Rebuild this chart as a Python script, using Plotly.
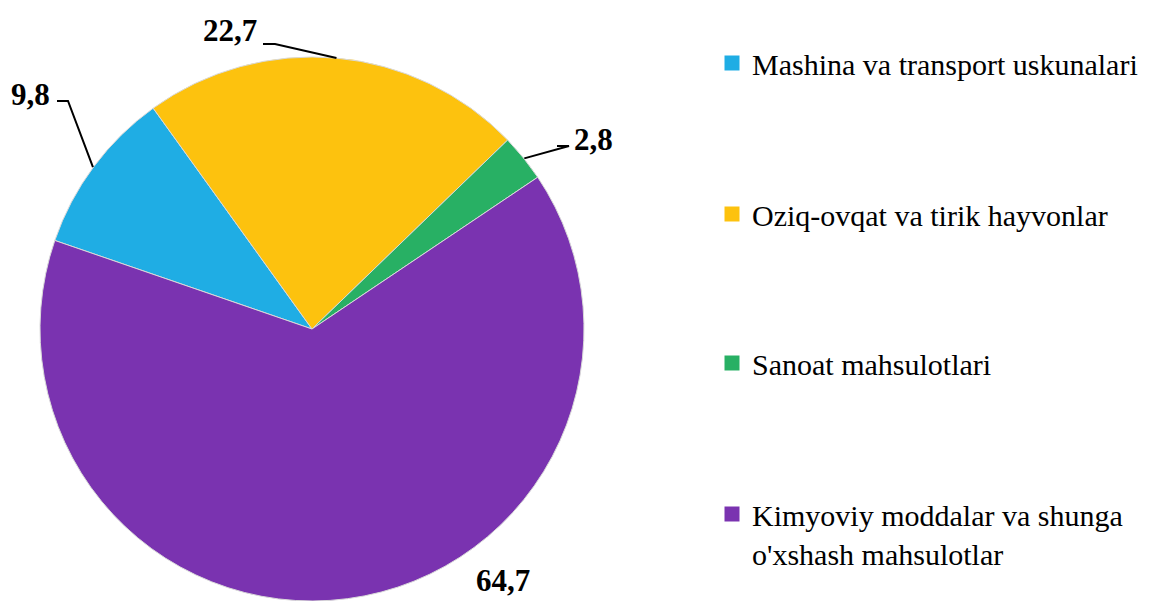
import math
import plotly.graph_objects as go

# Ma'lumotlar
labels = [
    "Mashina va transport uskunalari",
    "Oziq-ovqat va tirik hayvonlar",
    "Sanoat mahsulotlari",
    "Kimyoviy moddalar va shunga<br>o'xshash mahsulotlar",
]
values = [9.8, 22.7, 2.8, 64.7]
value_text = ["9,8", "22,7", "2,8", "64,7"]
colors = ["#1FADE4", "#FDC20E", "#28B064", "#7A33B0"]

# sahifa tanasi 8px chekka beradi, shuning uchun figura biroz kichikroq
OFF = 8
W, H = 1166 - OFF, 601 - OFF
FONT = "Liberation Serif"
ROT = -71
CX, CY, R = 312, 330, 273


def px(x, y):
    return (x - OFF) / W, 1 - (y - OFF) / H


fig = go.Figure()

# Doiraviy diagramma
dx0, dy1 = px(CX - R, CY - R)
dx1, dy0 = px(CX + R, CY + R)
fig.add_trace(go.Pie(
    labels=labels, values=values, sort=False, direction="clockwise",
    rotation=ROT, textinfo="none", hoverinfo="label+value",
    marker=dict(colors=colors, line=dict(color="#d9d9d9", width=1)),
    domain=dict(x=[dx0, dx1], y=[max(dy0, 0), dy1]),
    showlegend=False,
))

# Legenda (har bir element alohida)
leg_y = [63, 214, 363, 488]
for i, (lab, col) in enumerate(zip(labels, colors)):
    name = "legend" if i == 0 else f"legend{i + 1}"
    fig.add_trace(go.Scatter(
        x=[None], y=[None], mode="markers", name=lab,
        marker=dict(symbol="square", size=15, color=col),
        legend=name,
    ))
    lx, ly = px(712, leg_y[i])
    fig.update_layout(**{name: go.layout.Legend(
        x=lx, y=ly, xanchor="left",
        yanchor="top" if i == 3 else "middle",
        valign="top", bgcolor="rgba(0,0,0,0)",
        font=dict(family=FONT, size=30, color="black"),
    )})

# Qiymat yorliqlari va chiziqlar
label_pos = [(30, 94), (230, 30), (593, 139), (503, 580)]
elbow = [(68, 101), (263, 44), (569, 146), None]
elbow_end = [(57, 101), (275, 44), (557, 146), None]
start = ROT
total = sum(values)
for i, v in enumerate(values):
    ang = start + v / total * 360 / 2
    start += v / total * 360
    tx, ty = px(*label_pos[i])
    fig.add_annotation(x=tx, y=ty, xref="paper", yref="paper",
                       xanchor="center", yanchor="middle",
                       text=f"<b>{value_text[i]}</b>", showarrow=False,
                       font=dict(family=FONT, size=31, color="black"))
    if elbow[i] is None:
        continue
    a = math.radians(ang)
    ex, ey = CX + R * math.sin(a), CY - R * math.cos(a)
    if i == 1:
        p0, p1 = elbow[i], elbow_end[i]
    else:
        p0, p1 = elbow_end[i], elbow[i]
    pts = [p0, p1, (ex, ey)]
    path = "M " + " L ".join(f"{px(x, y)[0]},{px(x, y)[1]}" for x, y in pts)
    fig.add_shape(type="path", path=path, xref="paper", yref="paper",
                  line=dict(color="black", width=2))

fig.update_layout(
    width=W, height=H,
    margin=dict(l=0, r=0, t=0, b=0),
    paper_bgcolor="white", plot_bgcolor="white",
    xaxis=dict(visible=False), yaxis=dict(visible=False),
    font=dict(family=FONT, color="black"),
)

fig.write_html("out.html")
